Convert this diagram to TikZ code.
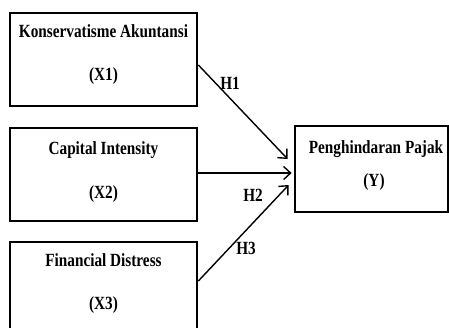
\documentclass[tikz,border=0pt]{standalone}
\usepackage{fontspec}
\setmainfont{Liberation Serif}
\newfontfamily\condfont[FakeStretch=0.82]{Liberation Serif}
\usetikzlibrary{arrows.meta}
\begin{document}
\begin{tikzpicture}[x=1pt,y=-1pt,
	varbox/.style={draw,line width=2.7pt,minimum width=187pt,minimum height=93pt,inner sep=0pt},
	vartext/.style={font=\condfont\fontsize{18.6}{22}\selectfont\bfseries,inner sep=0pt},
	hyp/.style={-{Straight Barb[length=7pt,width=13pt,line width=1.4pt]},line width=1.4pt}]
	\useasboundingbox (0,0) rectangle (449,327);
	\node[varbox] (x1) at (103.5,59.5) {};
	\node[varbox] (x2) at (103.5,174.5) {};
	\node[varbox] (x3) at (103.5,288.5) {};
	\node[varbox,minimum width=153pt,minimum height=86pt] (y) at (371.5,169) {};
	\node[vartext] (x1a) at (103.5,31) {Konservatisme Akuntansi};
	\node[vartext] (x1b) at (103.5,76) {(X1)};
	\node[vartext] (x2a) at (103.5,150) {Capital Intensity};
	\node[vartext] (x2b) at (103.5,194) {(X2)};
	\node[vartext] (x3a) at (103.5,260) {Financial Distress};
	\node[vartext] (x3b) at (103.5,305) {(X3)};
	\node[vartext] (ya) at (376,149.5) {Penghindaran Pajak};
	\node[vartext] (yb) at (374,182.5) {(Y)};
	\draw[hyp] ([yshift=-5.5pt]x1.east) -- ([xshift=-6pt,yshift=10pt]y.west);
	\draw[hyp] ([yshift=1.5pt]x2.east) -- ([xshift=-2pt,yshift=-4pt]y.west);
	\draw[hyp] ([yshift=7.5pt]x3.east) -- ([xshift=-5pt,yshift=-16pt]y.west);
	\node[vartext] (h1) at (230,83.5) {H1};
	\node[vartext] (h2) at (253,195) {H2};
	\node[vartext] (h3) at (246,248) {H3};
\end{tikzpicture}
\end{document}
